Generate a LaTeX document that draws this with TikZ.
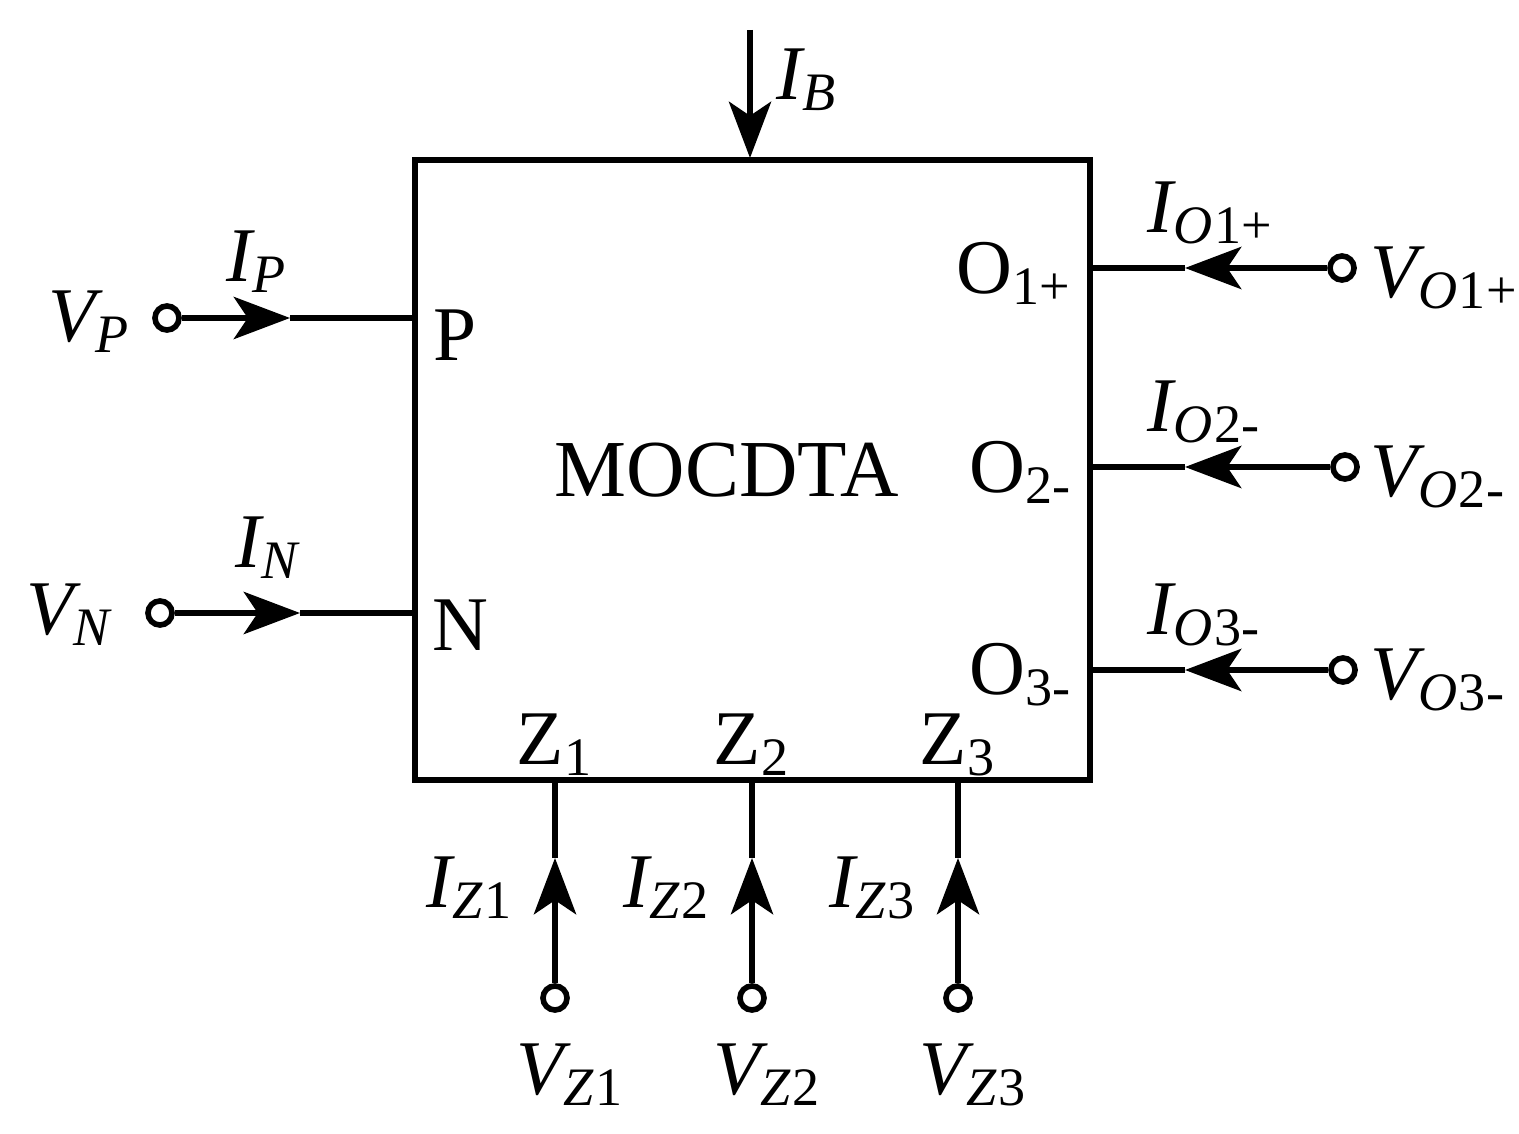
\documentclass[tikz,border=0pt]{standalone}
\usepackage{fontspec}
\setmainfont{Liberation Serif}
\usetikzlibrary{arrows.meta}
\newcommand{\qv}[3]{{\itshape #1\textsubscript{#2}}\textsubscript{#3}}
\begin{document}
\begin{tikzpicture}[x=0.01cm,y=-0.01cm,line width=1.6pt,
  pin/.style={circle,draw,line width=1.6pt,minimum size=0.24cm,inner sep=0pt,fill=white},
  lab/.style={font=\fontsize{22}{24}\selectfont,inner sep=0pt},
  arr/.style={-{Stealth[length=16pt,width=12pt,inset=4pt]}}]
\useasboundingbox (0,0) rectangle (1519,1134);
\node[draw,line width=1.6pt,minimum width=6.75cm,minimum height=6.2cm,inner sep=0pt] (box) at (752.5,470) {};
\node[lab,font=\fontsize{23}{26}\selectfont] (m) at (727,470) {MOCDTA};
% IB
\coordinate (bt) at (750,30);
\coordinate (bb) at (750,158);
\draw[arr] (bt) -- (bb);
\node[lab] (ib) at (808,80) {\qv{I}{B}{}};
% P
\node[pin] (cp) at (167,318) {};
\coordinate (pe) at (415,318); \coordinate (pm) at (290,318);
\draw[arr] (cp) -- (pm); \draw (pm) -- (pe);
\node[lab] at (90,322) {\qv{V}{P}{}}; \node[lab] at (258,262) {\qv{I}{P}{}}; \node[lab] at (455,335) {P};
% N
\node[pin] (cn) at (160,613) {};
\coordinate (ne) at (415,613); \coordinate (nm) at (300,613);
\draw[arr] (cn) -- (nm); \draw (nm) -- (ne);
\node[lab] at (70,615) {\qv{V}{N}{}}; \node[lab] at (268,548) {\qv{I}{N}{}}; \node[lab] at (460,625) {N};
% outputs
\foreach \y/\c/\n/\s in {268/1342/1/+,467/1345/2/-,670/1343/3/-}{
  \node[pin] (co\n) at (\c,\y) {};
  \coordinate (oe\n) at (1090,\y); \coordinate (om\n) at (1185,\y);
  \draw[arr] (co\n) -- (om\n); \draw (om\n) -- (oe\n);
  \node[lab,anchor=west] at (1368,\y+10) {\qv{V}{O}{\n\s}};
  \node[lab,anchor=west] at (1145,\y-55) {\qv{I}{O}{\n\s}};
  \node[lab,anchor=east] at (1075,\y+5) {O\textsubscript{\n\s}};
}
% Z
\foreach \x/\n in {555/1,752/2,958/3}{
  \node[pin] (cz\n) at (\x,998) {};
  \coordinate (ze\n) at (\x,780); \coordinate (zm\n) at (\x,858);
  \draw[arr] (cz\n) -- (zm\n); \draw (zm\n) -- (ze\n);
  \node[lab] at (\x-85,888) {\qv{I}{Z}{\n}};
  \node[lab] at (\x+15,1075) {\qv{V}{Z}{\n}};
  \node[lab] at (\x,745) {Z\textsubscript{\n}};
}
\end{tikzpicture}
\end{document}
